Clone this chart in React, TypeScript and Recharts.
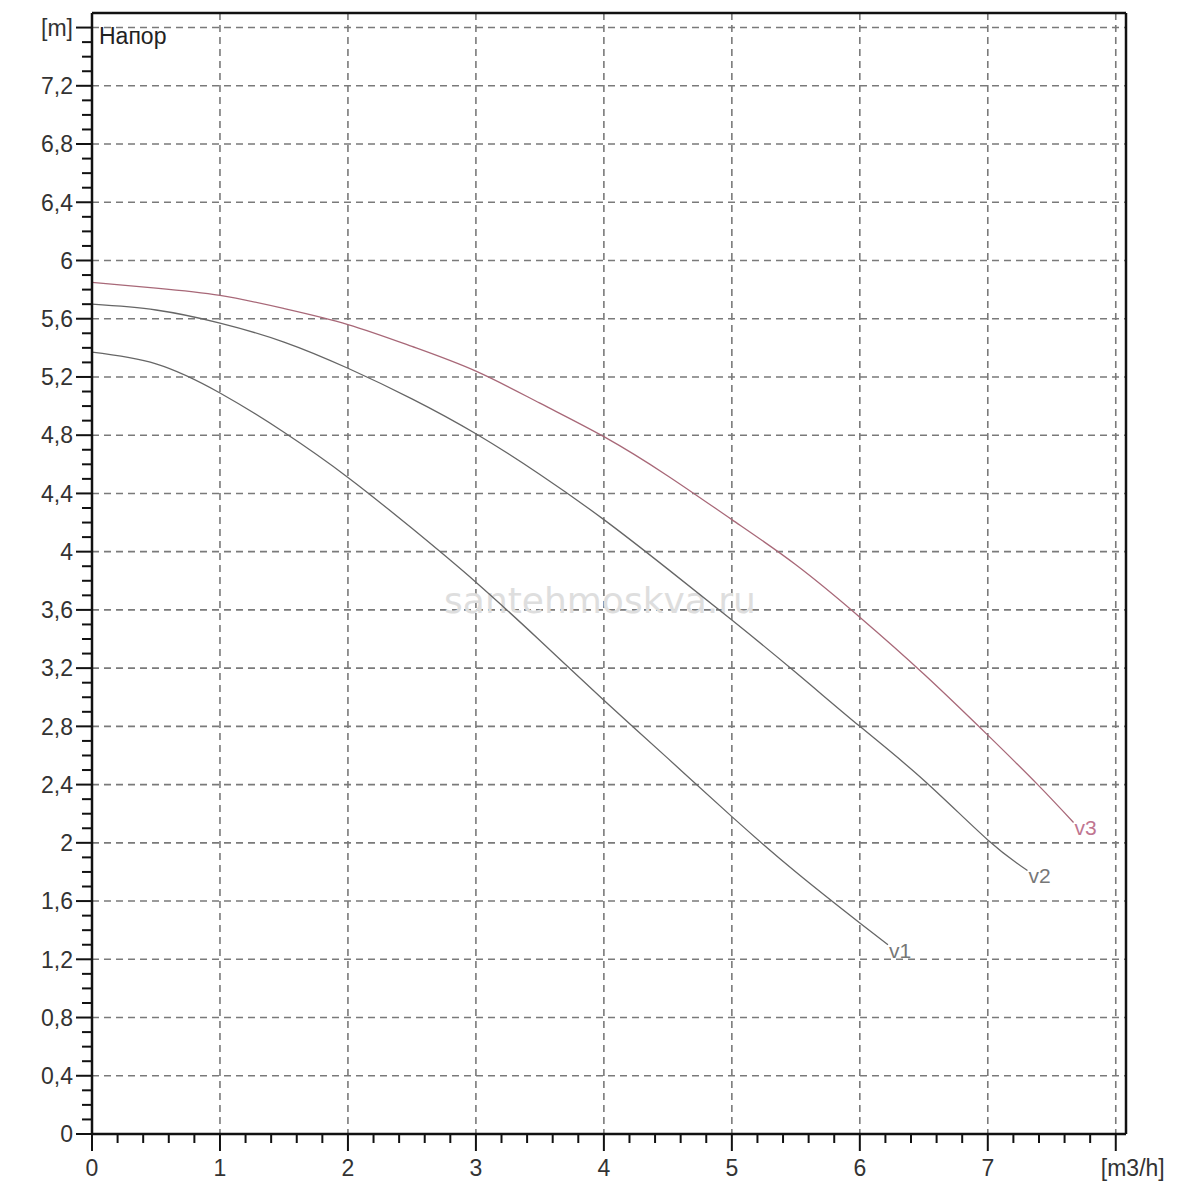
import { LineChart, Line, XAxis, YAxis, CartesianGrid, ReferenceLine, Customized } from "recharts";

// flow [m3/h] / head [m]
const v1Flow = [0, 0.5, 1, 1.5, 2, 2.5, 3, 3.5, 4, 4.5, 5, 5.5, 6, 6.22];
const v1Head = [5.37, 5.29, 5.09, 4.82, 4.51, 4.16, 3.79, 3.39, 2.98, 2.58, 2.18, 1.8, 1.45, 1.3];

const v2Flow = [0, 0.5, 1, 1.5, 2, 2.5, 3, 3.5, 4, 4.5, 5, 5.5, 6, 6.5, 7, 7.31];
const v2Head = [5.7, 5.66, 5.57, 5.44, 5.26, 5.05, 4.81, 4.53, 4.22, 3.88, 3.53, 3.17, 2.8, 2.43, 2.02, 1.81];

const v3Flow = [0, 0.5, 1, 1.5, 2, 2.5, 3, 3.5, 4, 4.5, 5, 5.5, 6, 6.5, 7, 7.39, 7.67];
const v3Head = [5.85, 5.81, 5.76, 5.67, 5.56, 5.41, 5.24, 5.02, 4.79, 4.52, 4.22, 3.91, 3.55, 3.16, 2.74, 2.4, 2.14];

const xMajor = [0, 1, 2, 3, 4, 5, 6, 7, 8];
const xLabels = ["0", "1", "2", "3", "4", "5", "6", "7", "[m3/h]"];
const yMajor = [0, 0.4, 0.8, 1.2, 1.6, 2, 2.4, 2.8, 3.2, 3.6, 4, 4.4, 4.8, 5.2, 5.6, 6, 6.4, 6.8, 7.2, 7.6];
const yLabels = ["0", "0,4", "0,8", "1,2", "1,6", "2", "2,4", "2,8", "3,2", "3,6", "4", "4,4", "4,8", "5,2", "5,6", "6", "6,4", "6,8", "7,2", "[m]"];

const xMinor = Array.from({ length: 41 }, (_, i) => Math.round(i * 2) / 10);
const yMinor = Array.from({ length: 77 }, (_, i) => i / 10);

const X_MAX = 8.08;
const Y_MAX = 7.7;

const toPoints = (flow: number[], head: number[]) => flow.map((q, i) => ({ q, h: head[i] }));
const v1 = toPoints(v1Flow, v1Head);
const v2 = toPoints(v2Flow, v2Head);
const v3 = toPoints(v3Flow, v3Head);

const FONT = "'Liberation Sans', Arial, sans-serif";
const findMajor = (arr: number[], v: number) => arr.findIndex((m) => Math.abs(m - v) < 1e-6);

const XTick = (props: any) => {
    const { x, y, payload } = props;
    const i = findMajor(xMajor, payload.value);
    if (i < 0) return <line x1={x} x2={x} y1={y} y2={y + 9} stroke="#111" strokeWidth={2} />;
    const last = i === xMajor.length - 1;
    return (
        <g>
            <line x1={x} x2={x} y1={y} y2={y + 17} stroke="#111" strokeWidth={2} />
            <text x={last ? x + 17 : x} y={y + 42} textAnchor="middle" fontSize={23} fill="#333" fontFamily={FONT}>
                {xLabels[i]}
            </text>
        </g>
    );
};

const YTick = (props: any) => {
    const { x, y, payload } = props;
    const i = findMajor(yMajor, payload.value);
    if (i < 0) return <line x1={x - 10} x2={x} y1={y} y2={y} stroke="#111" strokeWidth={2} />;
    return (
        <g>
            <line x1={x - 16} x2={x} y1={y} y2={y} stroke="#111" strokeWidth={2} />
            <text x={x - 19} y={y} dy="0.36em" textAnchor="end" fontSize={23} fill="#333" fontFamily={FONT}>
                {yLabels[i]}
            </text>
        </g>
    );
};

const endLabel = (name: string, count: number, color: string) => (p: any) => {
    if (p.index !== count - 1) return <g />;
    return (
        <text x={p.x + 1} y={p.y + 13} fontSize={21} fill={color} fontFamily={FONT}>
            {name}
        </text>
    );
};

const Watermark = () => (
    <text x={592} y={605} textAnchor="middle" fontSize={36} fill="#dedede" fontFamily="'DejaVu Sans', sans-serif">
        santehmoskva.ru
    </text>
);

export default function App() {
    return (
        <div style={{ width: 1184, height: 1184, background: "#fff" }}>
            <LineChart width={1184} height={1184} margin={{ top: 5, right: 66, left: 0, bottom: 0 }}>
                <Customized component={Watermark} />
                <CartesianGrid
                    stroke="#7a7a7a"
                    strokeWidth={1.6}
                    strokeDasharray="7 5"
                    horizontalValues={yMajor.slice(1)}
                    verticalValues={xMajor.slice(1)}
                />
                <XAxis
                    type="number"
                    dataKey="q"
                    domain={[0, X_MAX]}
                    ticks={xMinor}
                    interval={0}
                    tick={<XTick />}
                    tickLine={false}
                    tickSize={0}
                    tickMargin={0}
                    height={58}
                    axisLine={{ stroke: "#111", strokeWidth: 2.5 }}
                    allowDataOverflow
                />
                <YAxis
                    type="number"
                    dataKey="h"
                    domain={[0, Y_MAX]}
                    ticks={yMinor}
                    interval={0}
                    tick={<YTick />}
                    tickLine={false}
                    tickSize={0}
                    tickMargin={0}
                    width={84}
                    axisLine={{ stroke: "#111", strokeWidth: 2.5 }}
                    allowDataOverflow
                />
                <ReferenceLine y={Y_MAX} stroke="#111" strokeWidth={2.5} />
                <ReferenceLine x={X_MAX} stroke="#111" strokeWidth={2.5} />
                <Line data={v1} dataKey="h" type="natural" stroke="#666" strokeWidth={1.3} dot={false} isAnimationActive={false} label={endLabel("v1", v1.length, "#777")} />
                <Line data={v2} dataKey="h" type="natural" stroke="#666" strokeWidth={1.3} dot={false} isAnimationActive={false} label={endLabel("v2", v2.length, "#777")} />
                <Line data={v3} dataKey="h" type="natural" stroke="#a86878" strokeWidth={1.3} dot={false} isAnimationActive={false} label={endLabel("v3", v3.length, "#c07590")} />
                <text x={91} y={36} fontSize={23} fill="#222" fontFamily={FONT}>
                    Напор
                </text>
            </LineChart>
        </div>
    );
}
